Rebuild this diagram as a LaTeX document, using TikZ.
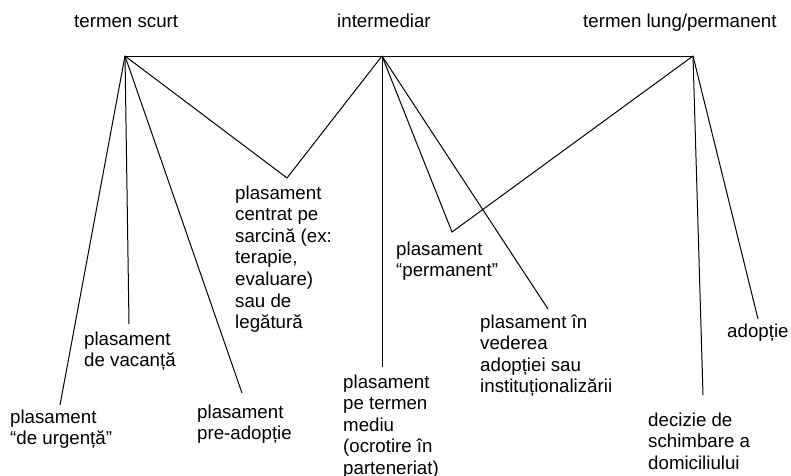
\documentclass[tikz,border=0pt]{standalone}
\usepackage{fontspec}
\setmainfont{Liberation Sans}
\begin{document}
\begin{tikzpicture}[x=1pt,y=-1pt,
  lbl/.style={inner sep=0pt, anchor=base west, align=left, font=\fontsize{18.7}{21.6}\selectfont},
  conn/.style={draw=black, line width=1pt, line join=miter}]
\useasboundingbox (0,0) rectangle (791,475);
% hubs
\coordinate (A) at (125,56);
\coordinate (B) at (382,56);
\coordinate (C) at (693,56);
% connector ends
\coordinate (urgE) at (60,405);
\coordinate (vacE) at (129,324);
\coordinate (preE) at (242,393);
\coordinate (cenV) at (287,178);
\coordinate (medE) at (382,367);
\coordinate (permV) at (452,232);
\coordinate (vedE) at (548,309);
\coordinate (decE) at (703,395);
\coordinate (adpE) at (758,319);
% labels (anchor = baseline of last line)
\node[lbl] (ts) at (74,27) {termen scurt};
\node[lbl] (im) at (337,27) {intermediar};
\node[lbl] (tl) at (583,27) {termen lung/permanent};
\node[lbl] (urg) at (10,444.6) {plasament\\“de urgență”};
\node[lbl] (vac) at (84,366.6) {plasament\\de vacanță};
\node[lbl] (pre) at (197,439.6) {plasament\\pre-adopție};
\node[lbl] (cen) at (235,328.6) {plasament\\centrat pe\\sarcină (ex:\\terapie,\\evaluare)\\sau de\\legătură};
\node[lbl] (med) at (343,474.4) {plasament\\pe termen\\mediu\\(ocrotire în\\parteneriat)};
\node[lbl] (perm) at (396,276.6) {plasament\\“permanent”};
\node[lbl] (ved) at (480,392.8) {plasament în\\vederea\\adopției sau\\instituționalizării};
\node[lbl] (adp) at (727,337) {adopție};
\node[lbl] (dec) at (648,469.2) {decizie de\\schimbare a\\domiciliului};
% connectors
\draw[conn] (A) -- (C);
\draw[conn] (A) -- (urgE);
\draw[conn] (A) -- (vacE);
\draw[conn] (A) -- (preE);
\draw[conn] (A) -- (cenV) -- (B);
\draw[conn] (B) -- (medE);
\draw[conn] (B) -- (permV) -- (C);
\draw[conn] (B) -- (vedE);
\draw[conn] (C) -- (decE);
\draw[conn] (C) -- (adpE);
\end{tikzpicture}
\end{document}
